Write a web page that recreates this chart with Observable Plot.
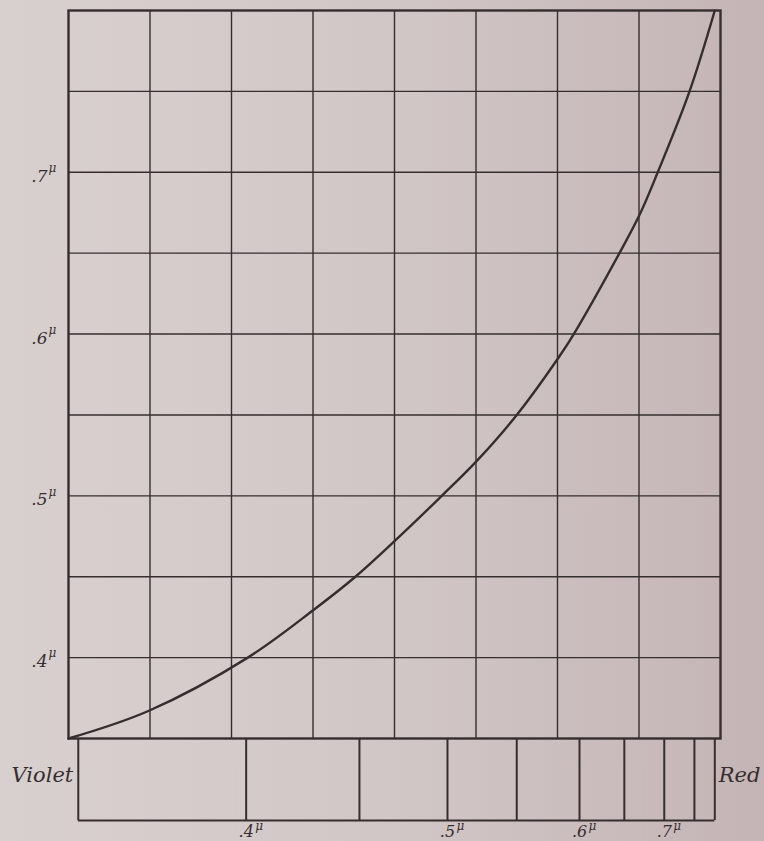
<!DOCTYPE html>
<html><head><meta charset="utf-8">
<script src="https://cdn.jsdelivr.net/npm/d3@7"></script>
<script src="https://cdn.jsdelivr.net/npm/@observablehq/plot@0.6"></script>
<style>
html,body{margin:0;padding:0;}
body{width:764px;height:841px;overflow:hidden;background:linear-gradient(to right,#d8d0cf 0%,#d2c7c7 50%,#c4b4b5 100%);}
#chart svg{display:block;}
#strip{margin-top:-2px;}
</style></head><body><div id="chart"></div>
<script>
// grid
const gridColumns = [1, 2, 3, 4, 5, 6, 7];
const gridWavelengths = [0.40, 0.45, 0.50, 0.55, 0.60, 0.65, 0.70, 0.75];
// y tick labels (wavelength in microns)
const yTickValues = [0.4, 0.5, 0.6, 0.7];
const yTickLabels = [".4", ".5", ".6", ".7"];
// curve: position in the prismatic spectrum (grid columns) vs wavelength
const curveX = [0, 0.98, 2.20, 3.01, 3.52, 4.00, 4.58, 5.01, 5.50, 6.02, 6.20, 6.76, 7.01, 7.23, 7.62, 7.93];
const curveWavelength = [0.35, 0.367, 0.40, 0.4296, 0.45, 0.472, 0.50, 0.5216, 0.55, 0.586, 0.60, 0.65, 0.674, 0.70, 0.75, 0.80];
// prismatic spectrum strip
const stripWavelengths = [0.35, 0.40, 0.45, 0.50, 0.55, 0.60, 0.65, 0.70, 0.75, 0.80];
const stripX = [0.12, 2.18, 3.57, 4.65, 5.50, 6.27, 6.82, 7.31, 7.68, 7.93];
const stripLabelWavelengths = [0.4, 0.5, 0.6, 0.7];
const stripLabels = [".4", ".5", ".6", ".7"];
const endLabels = ["Violet", "Red"];
const unit = "\u03bc";

const ink = "#362e2e";
const font = "'DejaVu Serif', 'Liberation Serif', serif";

const curve = curveX.map((x, i) => ({x, w: curveWavelength[i]}));
const yTicks = yTickValues.map((w, i) => ({w, label: yTickLabels[i]}));
const strip = stripWavelengths.map((w, i) => ({w, x: stripX[i]}));
const stripTicks = stripLabelWavelengths.map((w, i) => ({x: stripX[stripWavelengths.findIndex(v => Math.abs(v - w) < 1e-9)], label: stripLabels[i]}));

const main = Plot.plot({
  width: 764, height: 740,
  marginLeft: 68, marginRight: 44, marginTop: 10, marginBottom: 2,
  style: {background: "transparent", fontFamily: font, color: ink, overflow: "visible"},
  x: {domain: [0, 8], axis: null},
  y: {domain: [0.35, 0.80], axis: null},
  marks: [
    Plot.ruleX(gridColumns, {stroke: ink, strokeWidth: 1.4}),
    Plot.ruleY(gridWavelengths, {stroke: ink, strokeWidth: 1.4}),
    Plot.frame({stroke: ink, strokeWidth: 2.4}),
    Plot.line(curve, {x: "x", y: "w", curve: "catmull-rom", stroke: ink, strokeWidth: 2.4}),
    Plot.text(yTicks, {y: "w", text: "label", frameAnchor: "left", dx: -21, dy: 4, textAnchor: "end", fontSize: 17, fontStyle: "italic", fill: ink}),
    Plot.text(yTicks, {y: "w", text: () => unit, frameAnchor: "left", dx: -20, dy: -4, textAnchor: "start", fontSize: 12, fontStyle: "italic", fill: ink})
  ]
});

const stripPlot = Plot.plot({
  width: 764, height: 103,
  marginLeft: 68, marginRight: 44, marginTop: 0, marginBottom: 21,
  style: {background: "transparent", fontFamily: font, color: ink, overflow: "visible"},
  x: {domain: [0, 8], axis: null},
  y: {domain: [0, 1], axis: null},
  marks: [
    Plot.ruleX(strip, {x: "x", y1: 0, y2: 1, stroke: ink, strokeWidth: 2}),
    Plot.ruleY([0], {x1: stripX[0], x2: stripX[stripX.length - 1], stroke: ink, strokeWidth: 2.2}),
    Plot.text(stripTicks, {x: "x", y: 0, text: "label", dy: 16, lineAnchor: "bottom", textAnchor: "middle", fontSize: 16, fontStyle: "italic", fill: ink}),
    Plot.text(stripTicks, {x: "x", y: 0, text: () => unit, dx: 9, dy: 9, lineAnchor: "bottom", textAnchor: "start", fontSize: 12, fontStyle: "italic", fill: ink}),
    Plot.text([endLabels[0]], {x: stripX[0], y: 0.55, text: d => d, dx: -5, textAnchor: "end", fontSize: 21, fontStyle: "italic", fill: ink}),
    Plot.text([endLabels[1]], {x: stripX[stripX.length - 1], y: 0.55, text: d => d, dx: 4, textAnchor: "start", fontSize: 21, fontStyle: "italic", fill: ink})
  ]
});
stripPlot.setAttribute("id", "strip");
document.getElementById("chart").append(main, stripPlot);
</script>
</body></html>
